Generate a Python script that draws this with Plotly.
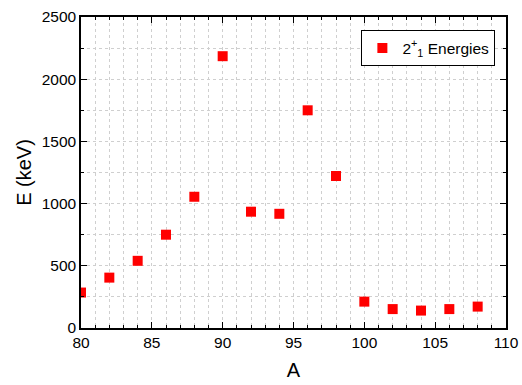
import plotly.graph_objects as go

A = [80, 82, 84, 86, 88, 90, 92, 94, 96, 98, 100, 102, 104, 106, 108]
E = [285, 405, 540, 750, 1055, 2185, 935, 918, 1750, 1222, 212, 152, 140, 152, 172]
series_name = "2<sup>+</sup><sub>1</sub> Energies"

fig = go.Figure()
fig.add_trace(go.Scatter(
    x=A, y=E, mode="markers", name=series_name,
    marker=dict(symbol="square", size=10, color="#ff0000", line=dict(width=0)),
    cliponaxis=True,
))

font = "Liberation Sans, Arial, sans-serif"
grid_color = "#cfcfcf"
axis_common = dict(
    showline=True, linecolor="black", linewidth=1.5, mirror="allticks",
    ticks="inside", ticklen=6, tickwidth=1.2, tickcolor="black",
    showgrid=True, gridcolor=grid_color, griddash="dot", gridwidth=1,
    zeroline=False, automargin=False,
    tickfont=dict(family=font, size=15.5, color="black"),
)

fig.update_xaxes(
    range=[80, 110], dtick=5, tick0=80,
    title=dict(text="A", font=dict(family=font, size=20, color="black"), standoff=13),
    minor=dict(dtick=1, ticks="inside", ticklen=3, tickcolor="black",
               showgrid=True, gridcolor=grid_color, griddash="dot"),
    **axis_common,
)
fig.update_yaxes(
    range=[0, 2500], dtick=500, tick0=0,
    title=dict(text="E (keV)", font=dict(family=font, size=20, color="black"), standoff=5),
    minor=dict(dtick=250, ticks="inside", ticklen=3, tickcolor="black",
               showgrid=True, gridcolor=grid_color, griddash="dot"),
    **axis_common,
)

fig.update_layout(
    width=522, height=385,
    margin=dict(l=81, r=16, t=17, b=57),
    paper_bgcolor="white", plot_bgcolor="white",
    font=dict(family=font, color="black"),
    legend=dict(x=0.975, y=0.957, xanchor="right", yanchor="top",
                bgcolor="white", bordercolor="black", borderwidth=1,
                font=dict(family=font, size=15.5, color="black"),
                itemwidth=30),
    showlegend=True,
)

fig.write_html("out.html", config={"displayModeBar": False},
               post_script="document.body.style.margin='0';")
